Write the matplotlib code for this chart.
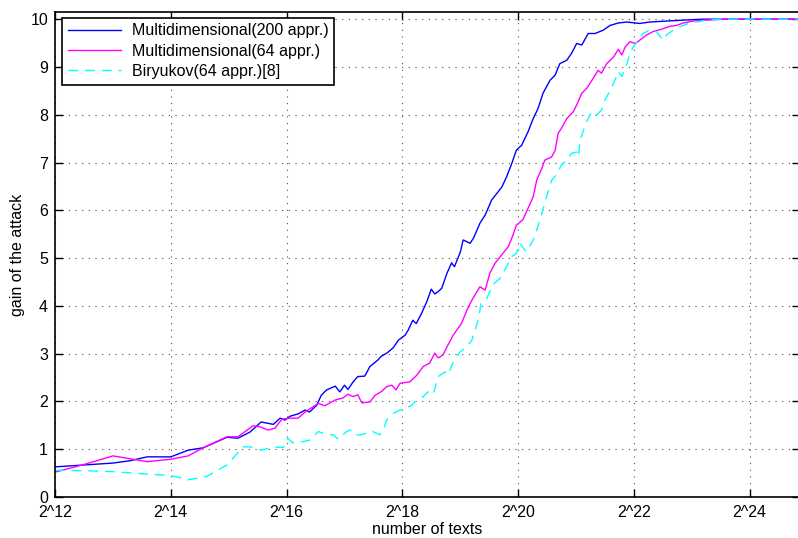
import numpy as np
import matplotlib
matplotlib.use('Agg')
import matplotlib.pyplot as plt

# x values are log2(number of texts)
blue_x = [12.0, 12.5, 13.0, 13.3, 13.59, 14.0, 14.3, 14.56, 14.97, 15.16, 15.37, 15.56, 15.77, 15.89,
          15.97, 16.06, 16.2, 16.32, 16.4, 16.52, 16.6, 16.69, 16.84, 16.92, 17.0, 17.06, 17.15,
          17.23, 17.35, 17.44, 17.58, 17.63, 17.73, 17.84, 17.93, 18.05, 18.1, 18.18, 18.24, 18.33,
          18.42, 18.5, 18.56, 18.62, 18.68, 18.77, 18.85, 18.9, 19.0, 19.05, 19.17, 19.23, 19.34,
          19.43, 19.54, 19.63, 19.72, 19.8, 19.89, 19.97, 20.06, 20.17, 20.26, 20.34, 20.43, 20.55,
          20.64, 20.72, 20.84, 20.92, 21.01, 21.1, 21.21, 21.33, 21.47, 21.59, 21.73, 21.88, 22.1,
          22.27, 22.56, 22.85, 23.2, 24.86]
blue_y = [0.63, 0.67, 0.71, 0.76, 0.84, 0.84, 0.98, 1.03, 1.25, 1.23, 1.36, 1.57, 1.52, 1.65,
          1.61, 1.69, 1.74, 1.82, 1.78, 1.92, 2.13, 2.24, 2.32, 2.20, 2.34, 2.25, 2.41,
          2.52, 2.53, 2.73, 2.87, 2.94, 3.01, 3.12, 3.28, 3.39, 3.49, 3.70, 3.63, 3.84,
          4.08, 4.35, 4.25, 4.30, 4.37, 4.68, 4.90, 4.82, 5.12, 5.38, 5.31, 5.42, 5.73,
          5.90, 6.21, 6.35, 6.49, 6.70, 6.98, 7.26, 7.36, 7.64, 7.92, 8.12, 8.45, 8.72,
          8.83, 9.07, 9.14, 9.28, 9.49, 9.46, 9.70, 9.70, 9.77, 9.87, 9.92, 9.94, 9.91,
          9.94, 9.96, 9.98, 10.0, 10.0]

magenta_x = [12.0, 12.5, 13.0, 13.3, 13.59, 14.0, 14.3, 14.56, 14.97, 15.16, 15.42, 15.54, 15.68,
             15.8, 15.92, 16.06, 16.2, 16.32, 16.46, 16.55, 16.66, 16.84, 16.97, 17.06, 17.15,
             17.23, 17.3, 17.44, 17.53, 17.63, 17.73, 17.82, 17.89, 17.96, 18.13, 18.25, 18.36,
             18.47, 18.56, 18.62, 18.7, 18.77, 18.88, 19.02, 19.14, 19.22, 19.34, 19.43, 19.51,
             19.6, 19.69, 19.83, 19.91, 19.97, 20.08, 20.17, 20.26, 20.32, 20.41, 20.46, 20.58,
             20.64, 20.69, 20.75, 20.84, 20.95, 21.01, 21.1, 21.19, 21.3, 21.38, 21.44, 21.53,
             21.65, 21.73, 21.79, 21.85, 21.93, 22.02, 22.1, 22.22, 22.33, 22.5, 22.62, 22.74,
             22.85, 23.02, 23.25, 23.6, 24.86]
magenta_y = [0.52, 0.68, 0.86, 0.80, 0.74, 0.79, 0.86, 1.03, 1.26, 1.26, 1.49, 1.47, 1.40,
             1.44, 1.63, 1.65, 1.65, 1.78, 1.89, 1.96, 1.91, 2.03, 2.07, 2.15, 2.10,
             2.14, 1.97, 1.99, 2.13, 2.20, 2.31, 2.34, 2.24, 2.38, 2.41, 2.55, 2.73,
             2.80, 3.01, 2.91, 2.97, 3.14, 3.39, 3.63, 3.98, 4.16, 4.40, 4.33, 4.68,
             4.89, 5.03, 5.24, 5.48, 5.69, 5.80, 6.04, 6.28, 6.63, 6.88, 7.05, 7.12,
             7.26, 7.61, 7.72, 7.92, 8.06, 8.20, 8.45, 8.56, 8.77, 8.93, 8.87, 9.07,
             9.21, 9.37, 9.25, 9.42, 9.53, 9.49, 9.56, 9.67, 9.74, 9.80, 9.85, 9.87,
             9.92, 9.96, 9.98, 10.0, 10.0]

cyan_x = [12.0, 12.5, 13.0, 13.59, 14.0, 14.3, 14.62, 14.97, 15.25, 15.37, 15.56, 15.76, 15.95,
          16.02, 16.11, 16.28, 16.4, 16.55, 16.63, 16.81, 16.89, 17.04, 17.1, 17.18, 17.27,
          17.41, 17.49, 17.61, 17.67, 17.73, 17.84, 17.96, 18.07, 18.16, 18.25, 18.36, 18.44,
          18.53, 18.62, 18.74, 18.79, 18.88, 19.0, 19.08, 19.2, 19.31, 19.36, 19.46, 19.56,
          19.69, 19.8, 19.89, 19.97, 20.03, 20.14, 20.26, 20.34, 20.41, 20.49, 20.58, 20.66,
          20.75, 20.84, 20.92, 21.01, 21.04, 21.07, 21.12, 21.18, 21.27, 21.36, 21.44, 21.5,
          21.59, 21.67, 21.73, 21.79, 21.88, 21.93, 21.99, 22.07, 22.16, 22.27, 22.39, 22.5,
          22.56, 22.68, 22.79, 22.94, 23.08, 23.25, 23.5, 24.86]
cyan_y = [0.56, 0.55, 0.53, 0.48, 0.45, 0.36, 0.43, 0.67, 1.05, 1.05, 0.98, 1.04, 1.04,
          1.23, 1.13, 1.16, 1.19, 1.37, 1.33, 1.30, 1.21, 1.37, 1.40, 1.30, 1.30,
          1.34, 1.37, 1.30, 1.40, 1.61, 1.75, 1.82, 1.86, 1.92, 2.03, 2.10, 2.20,
          2.14, 2.52, 2.62, 2.56, 2.83, 3.04, 3.11, 3.28, 3.70, 4.05, 4.16, 4.44,
          4.58, 4.82, 5.03, 5.10, 5.31, 5.13, 5.38, 5.66, 5.94, 6.28, 6.63, 6.74,
          6.95, 7.05, 7.19, 7.22, 7.12, 7.47, 7.64, 7.85, 8.06, 8.00, 8.10, 8.31,
          8.51, 8.72, 8.90, 8.80, 9.07, 9.28, 9.42, 9.56, 9.70, 9.77, 9.74, 9.56,
          9.67, 9.77, 9.84, 9.91, 9.94, 9.98, 10.0, 10.0]

labels = ['Multidimensional(200 appr.)', 'Multidimensional(64 appr.)', 'Biryukov(64 appr.)[8]']
tick_exp = np.arange(12, 25, 2)

plt.rcParams['font.family'] = ['Liberation Sans', 'DejaVu Sans']
plt.rcParams['font.size'] = 11.5

fig = plt.figure(figsize=(7.98, 5.38), dpi=100)
ax = fig.add_axes([55 / 798, 41 / 538, 744.5 / 798, 485 / 538])

ax.plot(2.0 ** np.array(blue_x), blue_y, color='#0000ff', lw=1.0, label=labels[0])
ax.plot(2.0 ** np.array(magenta_x), magenta_y, color='#ff00ff', lw=1.0, label=labels[1])
ax.plot(2.0 ** np.array(cyan_x), cyan_y, color='#00ffff', lw=1.0, ls=(0, (7, 5)), label=labels[2])

ax.set_xscale('log', base=2)
ax.set_xlim(2.0 ** 12, 2.0 ** 24.86)
ax.set_ylim(0, 10.15)
ax.set_xticks(2.0 ** tick_exp)
ax.set_xticklabels([f'2^{e}' for e in tick_exp])
ax.set_yticks(range(0, 11))
ax.minorticks_off()
ax.tick_params(direction='in', length=6, width=1, top=True, right=True)
ax.tick_params(axis='x', pad=6)
ax.tick_params(axis='y', pad=5)
ax.grid(True, color='0.3', ls=(0, (1, 5)), lw=0.8)
for s in ax.spines.values():
    s.set_linewidth(1.2)

ax.set_xlabel('number of texts', labelpad=1)
ax.set_ylabel('gain of the attack', labelpad=4)

leg = ax.legend(loc='upper left', bbox_to_anchor=(0.01, 0.988), fancybox=False, framealpha=1,
                edgecolor='black', handlelength=3.3, borderpad=0.35, labelspacing=0.33,
                handletextpad=0.7, borderaxespad=0)
leg.get_frame().set_linewidth(1.2)

fig.savefig('out.png', dpi=100)
